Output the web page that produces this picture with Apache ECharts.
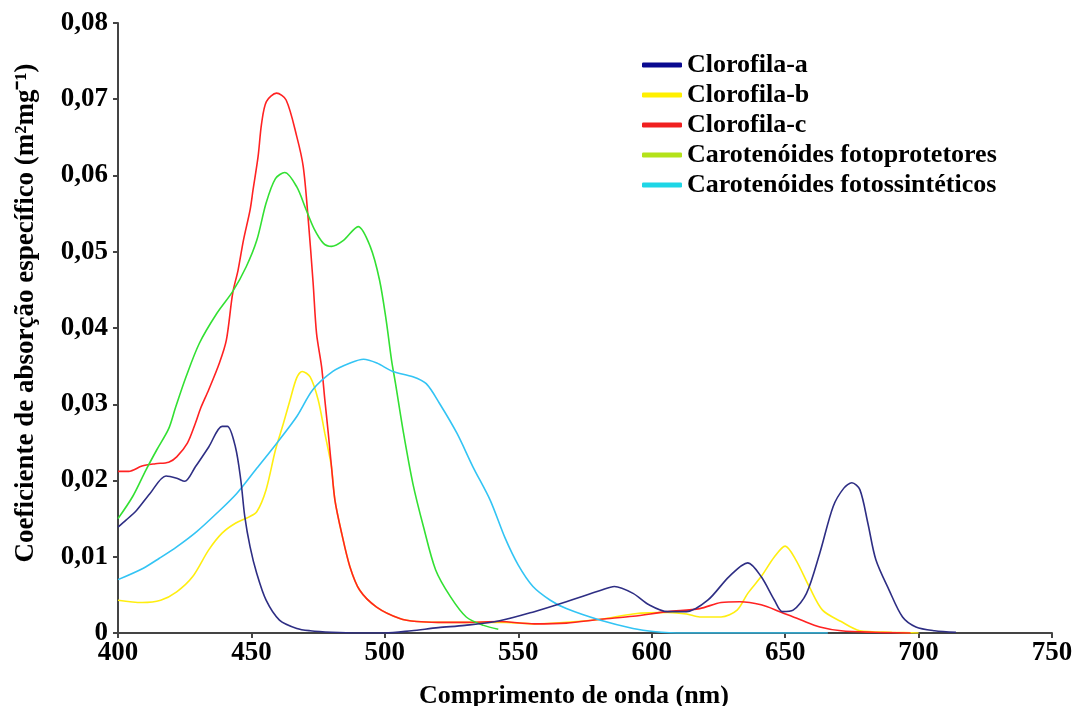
<!DOCTYPE html>
<html>
<head>
<meta charset="utf-8">
<script src="https://cdn.jsdelivr.net/npm/echarts@6/dist/echarts.min.js"></script>
<style>
  html, body { margin: 0; padding: 0; background: #fff; }
  #main { width: 1072px; height: 706px; }
</style>
</head>
<body>
<div id="main"></div>
<script>
// comprimento de onda (nm) e coeficiente de absorcao
var chlA_nm = [400,403,407,412,418,422,425,429,434,439,441,444,446,447.5,449.5,452,455.5,460.5,467,472,480,490,500,510,520,530,543,556,568,581,586,593,599,606,613,621,629,636,641,646,649,653,658,663,668,672,675,678,681,684,689,694,699,706,714];
var chlA_val = [0.0139,0.0148,0.0161,0.0183,0.0206,0.0203,0.0199,0.0218,0.0244,0.0271,0.0271,0.0244,0.0201,0.0153,0.0113,0.0078,0.0043,0.0017,0.0006,0.0003,0.0001,0,0,0.0003,0.0007,0.001,0.0016,0.0028,0.0041,0.0056,0.0061,0.0052,0.0037,0.0028,0.0028,0.0043,0.0074,0.0092,0.0074,0.0043,0.0028,0.003,0.0052,0.0105,0.0166,0.019,0.0197,0.0188,0.0144,0.0096,0.0056,0.0021,0.0008,0.0003,0.0001];

var chlB_nm = [400,409,416,422,428,434,439,444,449,452,455.5,459,462,464.5,467,469,472,475,477.5,478.8,480,481.3,483.8,486.9,490.6,496.9,505.6,512,520,530,545,556,568,581,593,606,613,618,626,632,636,641,646,650,654,659,664,671,678,690,700];
var chlB_val = [0.0043,0.004,0.0043,0.0054,0.0074,0.0109,0.0131,0.0144,0.0152,0.0159,0.0188,0.024,0.0275,0.0306,0.0335,0.0343,0.0336,0.0306,0.0262,0.024,0.0218,0.0174,0.0131,0.0087,0.0056,0.0034,0.0019,0.0015,0.0014,0.0014,0.0014,0.0012,0.0014,0.0018,0.0025,0.0027,0.0025,0.0021,0.0021,0.003,0.0052,0.0074,0.01,0.0114,0.0096,0.0061,0.003,0.0015,0.0003,0.0001,0];

var chlC_nm = [400,404,409,414,419,422,426,429,431,434,438,440.6,443,445,447,449.5,450.6,452.5,453.8,455.6,459.4,463,467,469.4,471.2,473.1,474.4,476.3,477.5,478.8,480,481.3,483.8,486.9,490.6,496.9,505.6,512,520,530,543,556,568,581,593,606,618,626,633,641,648,656,663,671,683,697];
var chlC_val = [0.0212,0.0212,0.0219,0.0222,0.0224,0.0231,0.0249,0.0275,0.0295,0.0319,0.0354,0.0384,0.0446,0.0476,0.0515,0.0555,0.0581,0.0625,0.0668,0.0697,0.0708,0.0699,0.0651,0.0612,0.0546,0.046,0.0393,0.0349,0.0306,0.0262,0.0218,0.0174,0.0131,0.0087,0.0056,0.0034,0.0019,0.0015,0.0014,0.0014,0.0015,0.0012,0.0013,0.0018,0.0022,0.0028,0.0032,0.004,0.0041,0.0037,0.0028,0.0017,0.0008,0.0003,0.0001,0];

var carFp_nm = [400,405.5,410.5,414.5,419,421.5,425.5,430.5,437,443,448,452,455.5,459,462.5,467,470.5,473.5,477,480,484.5,490,494.5,498,500.5,502.5,504,507,510.5,514.5,519,524.5,530.5,537,542.5];
var carFp_val = [0.015,0.0179,0.0214,0.024,0.0268,0.0295,0.0336,0.038,0.0419,0.0448,0.048,0.0515,0.0564,0.0596,0.0604,0.0585,0.0555,0.053,0.0511,0.0507,0.0515,0.0533,0.0507,0.0463,0.041,0.0358,0.0327,0.0262,0.0196,0.0139,0.0083,0.0048,0.0021,0.001,0.0005];

var carFs_nm = [400,409.5,415.5,422,429.5,437,444.5,452,459.5,467,473,480.5,487,492,497,503,510.5,515.5,520.5,527,533,539.5,545,550,555.5,562,568,580.5,593,600.5,612,640,666];
var carFs_val = [0.007,0.0085,0.0098,0.0113,0.0133,0.0157,0.0183,0.0216,0.0249,0.0284,0.0319,0.0343,0.0354,0.0359,0.0354,0.0343,0.0336,0.0327,0.0301,0.0262,0.0218,0.0174,0.0125,0.0089,0.0061,0.0043,0.0032,0.0017,0.0006,0.0002,0,0,0];

var names = ['Clorofila-a', 'Clorofila-b', 'Clorofila-c', 'Carotenóides fotoprotetores', 'Carotenóides fotossintéticos'];
var lineColors = ['#2e2e84', '#ffee10', '#ff2222', '#33e033', '#33c4f4'];
var legendColors = ['#0a0a90', '#fff000', '#f02020', '#b4e21a', '#1ed6e6'];

function pairs(xs, ys) {
  var out = [];
  for (var i = 0; i < xs.length; i++) out.push([xs[i], ys[i]]);
  return out;
}

var allData = [
  pairs(chlA_nm, chlA_val),
  pairs(chlB_nm, chlB_val),
  pairs(chlC_nm, chlC_val),
  pairs(carFp_nm, carFp_val),
  pairs(carFs_nm, carFs_val)
];

var font = 'Liberation Serif';
var chart = echarts.init(document.getElementById('main'));

var option = {
  backgroundColor: '#fff',
  animation: false,
  grid: { left: 118, right: 20, top: 23, bottom: 73, containLabel: false, outerBoundsMode: 'none' },
  legend: {
    orient: 'vertical',
    left: 637,
    top: 47,
    icon: 'roundRect',
    itemWidth: 40,
    itemHeight: 5,
    itemGap: 4,
    textStyle: { fontFamily: font, fontWeight: 'bold', fontSize: 26, color: '#000', lineHeight: 26 },
    data: names.map(function (n, i) {
      return { name: n, itemStyle: { color: legendColors[i] } };
    })
  },
  xAxis: {
    type: 'value',
    min: 400,
    max: 750,
    interval: 50,
    name: 'Comprimento de onda (nm)',
    nameLocation: 'middle',
    nameGap: 50,
    nameTextStyle: { fontFamily: font, fontWeight: 'bold', fontSize: 26, color: '#000', padding: [0, 22, 0, 0] },
    axisLine: { lineStyle: { color: '#444', width: 2 } },
    axisTick: { length: 5, lineStyle: { color: '#444', width: 2 } },
    axisLabel: { fontFamily: font, fontWeight: 'bold', fontSize: 27, color: '#000', margin: 7 },
    splitLine: { show: false }
  },
  yAxis: {
    type: 'value',
    min: 0,
    max: 0.08,
    interval: 0.01,
    name: 'Coeficiente de absorção específico (m²mg⁻¹)',
    nameLocation: 'middle',
    nameGap: 78,
    nameTextStyle: { fontFamily: font, fontWeight: 'bold', fontSize: 27, color: '#000', padding: [0, 0, 0, 30] },
    axisLine: { show: true, lineStyle: { color: '#444', width: 2 } },
    axisTick: { show: true, length: 5, lineStyle: { color: '#444', width: 2 } },
    axisLabel: {
      fontFamily: font, fontWeight: 'bold', fontSize: 27, color: '#000', margin: 10,
      formatter: function (v) { return v === 0 ? '0' : v.toFixed(2).replace('.', ','); }
    },
    splitLine: { show: false }
  },
  series: allData.map(function (d, i) {
    return {
      name: names[i],
      type: 'line',
      data: d,
      showSymbol: false,
      smooth: 0.3,
      color: lineColors[i],
      lineStyle: { width: 1.6, color: lineColors[i] },
      z: i === 0 ? 5 : 2
    };
  })
};

chart.setOption(option);
</script>
</body>
</html>
